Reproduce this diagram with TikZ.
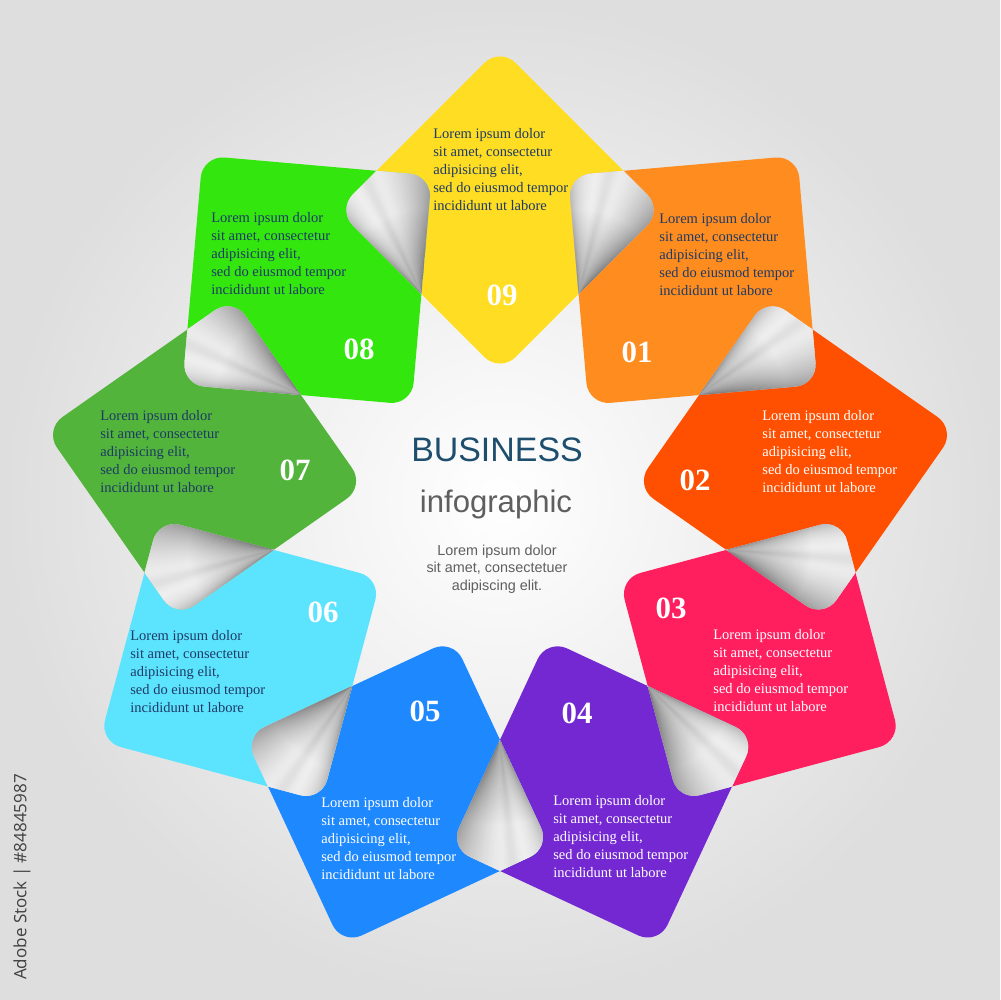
\documentclass[tikz,border=0pt]{standalone}
\usepackage{fontspec}
\setmainfont{Liberation Serif}
\newfontfamily\headfont{Liberation Sans}
\newfontfamily\stampfont{Open Sans}
\usetikzlibrary{fadings}

\definecolor{c01}{HTML}{FF8C1E}
\definecolor{c02}{HTML}{FF4F00}
\definecolor{c03}{HTML}{FF1F5F}
\definecolor{c04}{HTML}{7328D2}
\definecolor{c05}{HTML}{1E88FF}
\definecolor{c06}{HTML}{5CE4FF}
\definecolor{c07}{HTML}{52B43A}
\definecolor{c08}{HTML}{33E60E}
\definecolor{c09}{HTML}{FFDD22}
\definecolor{inkdark}{HTML}{1E3A66}
\definecolor{titleblue}{HTML}{1D4E6E}
\definecolor{subgray}{HTML}{5F5F5F}

\tikzfading[name=apexfade, inner color=transparent!0, outer color=transparent!100]

\tikzset{
  tilepos/.style={shift={(500,490)}, rotate=#1, shift={(300,0)}, rotate=-45, rounded corners=0.44cm},
  blurb/.style={anchor=north west, inner sep=0pt, align=left, font=\fontsize{8.25}{10.25}\selectfont},
  num/.style={inner sep=0pt, text=white, font=\fontsize{17.6}{18}\selectfont\bfseries},
}

\begin{document}
\begin{tikzpicture}[x=0.02cm, y=0.02cm]
  \shade[inner color=white, outer color=black!13] (0,0) rectangle (1000,1000);
  \useasboundingbox (0,0) rectangle (1000,1000);

  % the nine tiles
  \foreach \a/\c in {90/c09,50/c01,10/c02,-30/c03,-70/c04,-110/c05,-150/c06,-190/c07,-230/c08} {
    \fill[tilepos=\a, \c] (-115,-115) rectangle (115,115);
  }

  % curled corners where two tiles meet
  \foreach \a in {90,50,10,-30,-70,-110,-150,-190,-230} {
    \pgfmathsetmacro\m{\a-20}
    \begin{scope}
      \clip[tilepos=\a] (-115,-115) rectangle (115,115);
      \clip[tilepos=\a-40] (-115,-115) rectangle (115,115);
      \coordinate (apex) at ([shift={(500,490)}]\m:230);
      \fill[black!12] ([shift={(500,490)}]\m:300) circle (1.9cm);
      \foreach \k in {0,...,52} {
        \pgfmathsetmacro\t{\k/52}
        \pgfmathsetmacro\g{40*pow(1-\t,2.5) + 7*exp(-pow((\t-0.62)/0.07,2)) + 30*pow(\t,6)}
        \fill[black!\g] (apex) -- ([shift={(apex)}]\m-26.7+\k:170)
          -- ([shift={(apex)}]\m-25.3+\k:170) -- cycle;
      }
      \fill[black, fill opacity=0.3, path fading=apexfade] (apex) circle (1.7cm);
    \end{scope}
  }

  % texts on the tiles
  \node[blurb, text=inkdark] (t09) at (433,872) {Lorem ipsum dolor\\sit amet, consectetur\\adipisicing elit,\\sed do eiusmod tempor\\incididunt ut labore};
  \node[blurb, text=inkdark] (t01) at (659,787) {Lorem ipsum dolor\\sit amet, consectetur\\adipisicing elit,\\sed do eiusmod tempor\\incididunt ut labore};
  \node[blurb, text=white] (t02) at (762,590) {Lorem ipsum dolor\\sit amet, consectetur\\adipisicing elit,\\sed do eiusmod tempor\\incididunt ut labore};
  \node[blurb, text=white] (t03) at (713,371) {Lorem ipsum dolor\\sit amet, consectetur\\adipisicing elit,\\sed do eiusmod tempor\\incididunt ut labore};
  \node[blurb, text=white] (t04) at (553,205) {Lorem ipsum dolor\\sit amet, consectetur\\adipisicing elit,\\sed do eiusmod tempor\\incididunt ut labore};
  \node[blurb, text=white] (t05) at (321,203) {Lorem ipsum dolor\\sit amet, consectetur\\adipisicing elit,\\sed do eiusmod tempor\\incididunt ut labore};
  \node[blurb, text=inkdark] (t06) at (130,370) {Lorem ipsum dolor\\sit amet, consectetur\\adipisicing elit,\\sed do eiusmod tempor\\incididunt ut labore};
  \node[blurb, text=inkdark] (t07) at (100,590) {Lorem ipsum dolor\\sit amet, consectetur\\adipisicing elit,\\sed do eiusmod tempor\\incididunt ut labore};
  \node[blurb, text=inkdark] (t08) at (211,788) {Lorem ipsum dolor\\sit amet, consectetur\\adipisicing elit,\\sed do eiusmod tempor\\incididunt ut labore};

  % numbers
  \node[num] (n09) at (502,705) {09};
  \node[num] (n01) at (637,648) {01};
  \node[num] (n02) at (695,520) {02};
  \node[num] (n03) at (671,392) {03};
  \node[num] (n04) at (577,287) {04};
  \node[num] (n05) at (425,289) {05};
  \node[num] (n06) at (323,388) {06};
  \node[num] (n07) at (295,530) {07};
  \node[num] (n08) at (359,651) {08};

  % centre
  \node[text=titleblue, font=\headfont\fontsize{19.3}{20}\selectfont] (title) at (497,550) {BUSINESS};
  \node[text=subgray, font=\headfont\fontsize{17.7}{18}\selectfont] (sub) at (496,496) {infographic};
  \node[text=subgray, align=center, font=\headfont\fontsize{8.2}{10}\selectfont] (intro) at (497,431) {Lorem ipsum dolor\\sit amet, consectetuer\\adipiscing elit.};

  \node[rotate=90, text=black!75, font=\stampfont\fontsize{9.7}{10}\selectfont] (stamp) at (22,123) {Adobe Stock | \#84845987};
\end{tikzpicture}
\end{document}
